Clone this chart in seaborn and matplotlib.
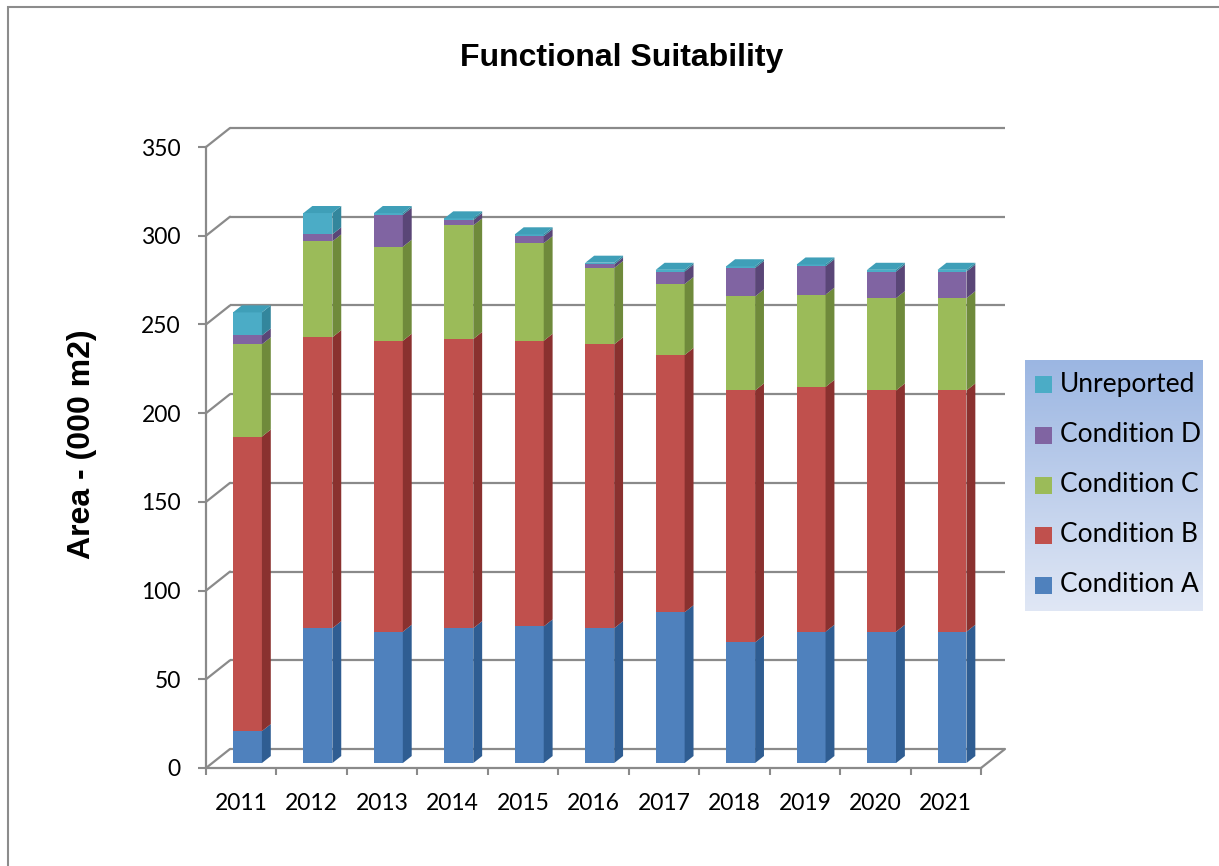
import numpy as np
import matplotlib
matplotlib.use("Agg")
import matplotlib.pyplot as plt
from matplotlib.patches import Polygon, Rectangle
from matplotlib.transforms import Affine2D
from matplotlib.colors import LinearSegmentedColormap
import seaborn as sns

# ---- data (thousand m2) ----
years = ["2011", "2012", "2013", "2014", "2015", "2016",
         "2017", "2018", "2019", "2020", "2021"]
condition_a = [18, 76, 74, 76, 77, 76, 85, 68, 74, 74, 74]
condition_b = [166, 164, 164, 163, 161, 160, 145, 142, 138, 136, 136]
condition_c = [52, 54, 53, 64, 55, 43, 40, 53, 52, 52, 52]
condition_d = [5, 4, 18, 3, 4, 2, 7, 16, 16, 15, 15]
unreported = [13, 12, 1, 1, 1, 1, 1, 1, 1, 1, 1]
series_names = ["Condition A", "Condition B", "Condition C", "Condition D", "Unreported"]
y_ticks = [0, 50, 100, 150, 200, 250, 300, 350]

# ---- styling ----
front_colors = ["#4f81bd", "#c0504d", "#9bbb59", "#8064a2", "#4bacc6"]
side_colors = ["#2f5d92", "#8a312f", "#6f8a3b", "#5a4677", "#33869c"]
cap_color = "#3f9fb8"
grid_gray = "#8a8a8a"

sns.set_theme(style="white")
plt.rcParams["font.family"] = ["Lato", "DejaVu Sans"]
plt.rcParams["text.color"] = "black"

W, H = 1219, 866
fig = plt.figure(figsize=(W / 100, H / 100), dpi=100)
fig.patch.set_facecolor("white")

ax = fig.add_axes([206 / W, 98 / H, 799 / W, 640 / H])
ax.set_facecolor("none")

# oblique depth offset of the back wall, in data units
DX = 24 / 70.45
DY = 19 / 1.774
f0, f1 = 0.26, 0.63       # front / back depth of the bars
bar_w = 0.41

layers = np.array([condition_a, condition_b, condition_c, condition_d, unreported], dtype=float)
cum = np.cumsum(layers, axis=0)
n = len(years)

# front faces: cumulative totals drawn from the top series downward
for k in range(len(series_names) - 1, -1, -1):
    sns.barplot(x=years, y=cum[k], color=front_colors[k], width=bar_w,
                saturation=1, linewidth=0, ax=ax)

shift = Affine2D().translate(f0 * DX, f0 * DY) + ax.transData
for p in ax.patches:
    p.set_transform(shift)
    p.set_zorder(3)
    p.set_clip_on(False)

# side faces and top caps
ddx, ddy = (f1 - f0) * DX, (f1 - f0) * DY
for i in range(n):
    xl = i - bar_w / 2 + f0 * DX
    xr = i + bar_w / 2 + f0 * DX
    for k in range(len(series_names)):
        b = (cum[k - 1, i] if k > 0 else 0.0) + f0 * DY
        t = cum[k, i] + f0 * DY
        ax.add_patch(Polygon([(xr, b), (xr, t), (xr + ddx, t + ddy), (xr + ddx, b + ddy)],
                             closed=True, facecolor=side_colors[k], edgecolor="none",
                             zorder=3, clip_on=False))
    t = cum[-1, i] + f0 * DY
    ax.add_patch(Polygon([(xl, t), (xr, t), (xr + ddx, t + ddy), (xl + ddx, t + ddy)],
                         closed=True, facecolor=cap_color, edgecolor="none",
                         zorder=3, clip_on=False))

# back wall gridlines with their diagonal connectors
x0, x1 = -0.5, n - 0.5
for v in y_ticks:
    ax.plot([x0 + DX, x1 + DX], [v + DY, v + DY], color=grid_gray, lw=1.6,
            zorder=1, clip_on=False, solid_capstyle="butt")
    ax.plot([x0, x0 + DX], [v, v + DY], color=grid_gray, lw=1.6,
            zorder=1, clip_on=False)
# right edge of the floor
ax.plot([x1, x1 + DX], [0, DY], color=grid_gray, lw=1.6, zorder=1, clip_on=False)

ax.set_xlim(x0, x1 + DX)
ax.set_ylim(0, 350 + DY)

for s in ["top", "right"]:
    ax.spines[s].set_visible(False)
for s in ["left", "bottom"]:
    ax.spines[s].set_color(grid_gray)
    ax.spines[s].set_linewidth(1.6)
    ax.spines[s].set_zorder(2)
ax.spines["left"].set_bounds(0, 350)
ax.spines["bottom"].set_bounds(x0, x1)

ax.set_yticks(y_ticks)
ax.set_yticklabels([str(v) for v in y_ticks])
ax.set_xticks(range(n))
ax.set_xticklabels(years)
ax.set_xticks(np.arange(x0, x1 + 0.01, 1.0), minor=True)
ax.tick_params(axis="y", which="major", left=True, direction="out", length=6,
               width=1.5, color=grid_gray, pad=12, labelsize=16.5, labelcolor="black")
ax.tick_params(axis="x", which="major", bottom=True, length=0, pad=18,
               labelsize=16.5, labelcolor="black")
ax.tick_params(axis="x", which="minor", bottom=True, direction="out", length=5,
               width=1.5, color=grid_gray)
ax.set_xlabel("")
ax.set_ylabel("")
ax.grid(False)

# titles
fig.text(622 / W, 1 - 58 / H, "Functional Suitability", fontsize=23, fontweight="bold",
         family=["Liberation Sans", "DejaVu Sans"], ha="center", va="center", color="black")
fig.text(82 / W, 1 - 444 / H, "Area - (000 m2)", fontsize=23, fontweight="bold",
         family=["Liberation Sans", "DejaVu Sans"], rotation=90, ha="center", va="center",
         color="black")

# outer chart frame
fig.add_artist(Rectangle((8 / W, -0.05), 1.2, 1.05 - 7 / H, transform=fig.transFigure,
                         fill=False, edgecolor="#8c8c8c", lw=1.5))

# legend panel with a vertical blue gradient
lax = fig.add_axes([1025 / W, 1 - 611 / H, 178 / W, 251 / H])
grad = LinearSegmentedColormap.from_list("legend_bg", ["#e0e7f5", "#9bb6e2"])
lax.imshow(np.linspace(0, 1, 256).reshape(-1, 1), origin="lower", cmap=grad,
           extent=[0, 178, 0, 251], aspect="auto")
lax.set_xlim(0, 178)
lax.set_ylim(0, 251)
lax.axis("off")
for j, k in enumerate(range(len(series_names) - 1, -1, -1)):
    yc = 251 - (25 + 50 * j)
    lax.add_patch(Rectangle((10, yc - 8.5), 17, 17, facecolor=front_colors[k], edgecolor="none"))
    lax.text(35, yc, series_names[k], fontsize=19, va="center", ha="left", color="black")

fig.savefig("out.png", dpi=100)
